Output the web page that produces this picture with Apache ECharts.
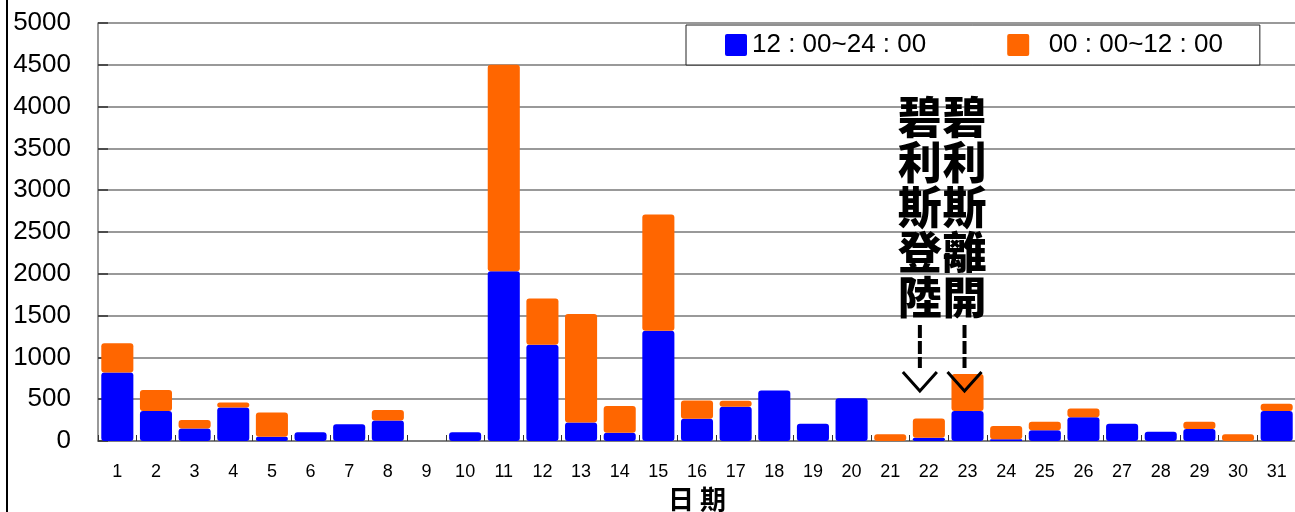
<!DOCTYPE html>
<html>
<head>
<meta charset="utf-8">
<script src="https://cdn.jsdelivr.net/npm/echarts@6.0.0/dist/echarts.min.js"></script>
<style>
  html, body { margin: 0; padding: 0; background: #fff; }
  #main { width: 1295px; height: 512px; }
</style>
</head>
<body>
<div id="main"></div>
<script>
const days = ['1', '2', '3', '4', '5', '6', '7', '8', '9', '10', '11', '12', '13', '14', '15', '16',
  '17', '18', '19', '20', '21', '22', '23', '24', '25', '26', '27', '28', '29', '30', '31']
// 12:00~24:00
const pmValues = [820, 360, 150, 400, 50, 105, 200, 245, 0, 105, 2030, 1150, 220, 100, 1320, 265,
  410, 605, 205, 510, 0, 40, 360, 20, 130, 285, 205, 110, 145, 0, 360]
// 00:00~12:00
const amValues = [350, 250, 100, 60, 290, 0, 0, 125, 0, 0, 2470, 555, 1300, 320, 1390, 220,
  70, 0, 0, 0, 80, 230, 440, 160, 100, 105, 0, 0, 85, 80, 85]
const yTicks = { min: 0, max: 5000, interval: 500 }
const notes = [
  { day: '22', text: '碧\n利\n斯\n登\n陸', dx: -9 },
  { day: '23', text: '碧\n利\n斯\n離\n開', dx: -3 }
]

const font = '"Liberation Sans", Arial, sans-serif'
const chart = echarts.init(document.getElementById('main'))

chart.setOption({
  animation: false,
  textStyle: { fontFamily: font },
  grid: { left: 98, right: -1, top: 23, bottom: 71, containLabel: false, outerBoundsMode: 'none' },
  legend: {
    left: 686,
    top: 25,
    padding: [7, 37, 7, 39],
    itemGap: 81,
    itemWidth: 22,
    itemHeight: 22,
    borderColor: '#222',
    borderWidth: 1,
    borderRadius: 0,
    backgroundColor: '#fff',
    icon: 'path://M2,0 L20,0 Q22,0 22,2 L22,20 Q22,22 20,22 L2,22 Q0,22 0,20 L0,2 Q0,0 2,0 Z',
    formatter: name => (name.startsWith('00') ? '  ' : '') + name.replace(/:/g, ' : '),
    textStyle: { fontSize: 26, color: '#000', fontFamily: font, padding: [0, 0, 0, 0] },
    data: ['12:00~24:00', '00:00~12:00']
  },
  xAxis: {
    type: 'category',
    data: days,
    name: '日 期',
    nameLocation: 'middle',
    nameGap: 44,
    nameTextStyle: { fontSize: 26, fontWeight: 'bold', color: '#000', fontFamily: '"Noto Sans CJK TC", sans-serif' },
    axisLine: { lineStyle: { color: '#777', width: 1.5 } },
    axisTick: { show: true, inside: true, length: 6, alignWithLabel: false, lineStyle: { color: '#333' } },
    axisLabel: { interval: 0, fontSize: 18, color: '#000', margin: 22 },
    splitLine: { show: false }
  },
  yAxis: {
    type: 'value',
    min: yTicks.min,
    max: yTicks.max,
    interval: yTicks.interval,
    axisLine: { show: true, lineStyle: { color: '#777', width: 1.5 } },
    axisTick: { show: true, inside: true, length: 10, lineStyle: { color: '#333', width: 1.5 } },
    axisLabel: { fontSize: 26, color: '#000', margin: 27, formatter: v => String(v) },
    splitLine: { lineStyle: { color: '#777', width: 1.5 } }
  },
  series: [
    {
      name: '12:00~24:00',
      type: 'bar',
      stack: 'total',
      barCategoryGap: '17%',
      itemStyle: { color: '#0000ff', borderRadius: 3 },
      data: pmValues
    },
    {
      name: '00:00~12:00',
      type: 'bar',
      stack: 'total',
      barCategoryGap: '17%',
      itemStyle: { color: '#ff6600', borderRadius: 3 },
      data: amValues
    }
  ]
})

// annotations pointing at the landing / leaving days
const graphics = [
  { type: 'line', shape: { x1: 7, y1: 0, x2: 7, y2: 512 }, style: { stroke: '#000', lineWidth: 2 } }
]
notes.forEach(note => {
  const x = chart.convertToPixel({ xAxisIndex: 0 }, note.day) + note.dx
  graphics.push({
    type: 'text',
    style: {
      text: note.text,
      x: x,
      y: 95,
      align: 'center',
      verticalAlign: 'top',
      fontSize: 44,
      lineHeight: 45,
      fontWeight: 900,
      fontFamily: '"Noto Sans CJK TC", sans-serif',
      fill: '#000'
    },
    z: 100
  })
  graphics.push({
    type: 'line',
    shape: { x1: x, y1: 325, x2: x, y2: 368 },
    style: { stroke: '#000', lineWidth: 4, lineDash: [13, 3] },
    z: 100
  })
  graphics.push({
    type: 'polyline',
    shape: { points: [[x - 17, 372], [x, 391], [x + 17, 372]] },
    style: { stroke: '#000', lineWidth: 3, fill: null },
    z: 100
  })
})
chart.setOption({ graphic: graphics })
</script>
</body>
</html>
